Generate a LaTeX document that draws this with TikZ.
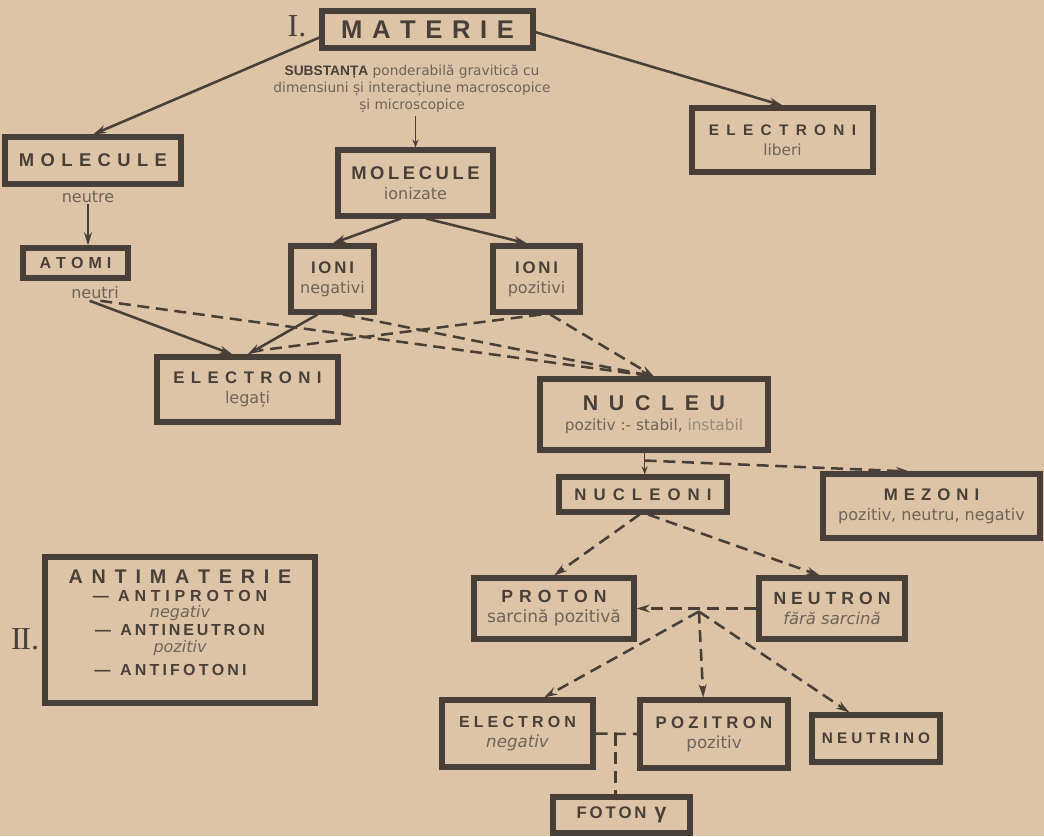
\documentclass[tikz,border=0pt]{standalone}
\usepackage{fontspec}
\setmainfont{DejaVu Sans}
\newfontfamily\capf{Liberation Sans}
\newfontfamily\subf{DejaVu Sans}
\newfontfamily\serf{Liberation Serif}
\usetikzlibrary{arrows.meta,calc}
\definecolor{bg}{RGB}{221,196,166}
\definecolor{ink}{RGB}{72,64,56}
\definecolor{subc}{RGB}{110,100,90}
\definecolor{faint}{RGB}{150,138,124}
\makeatletter
\newcommand\lsp[2]{\@tfor\lsp@c:=#2\do{\lsp@c\kern#1\relax}\kern-#1\relax}
\makeatother
\newcommand\cp[3]{{\capf\bfseries\fontsize{#1}{#1}\selectfont\lsp{#2}{#3}}}
\newcommand\sbl[2]{{\subf\color{subc}\fontsize{#1}{#1}\selectfont #2}}
\begin{document}
\begin{tikzpicture}[x=0.75pt,y=-0.75pt,
  box/.style={draw=ink, line width=3.8pt, inner sep=0pt, align=center, text=ink,
    font=\fontsize{10pt}{15pt}\selectfont},
  wh/.style 2 args={minimum width=#1*0.75pt, minimum height=#2*0.75pt},
  sub/.style={text=subc, inner sep=1pt, font=\subf\fontsize{12pt}{12pt}\selectfont},
  roman/.style={text=ink, inner sep=0pt, font=\serf\fontsize{24pt}{24pt}\selectfont},
  ln/.style={draw=ink, line width=1.9pt},
  arr/.style={ln, -{Stealth[length=10pt,width=6pt]}},
  sarr/.style={draw=ink, line width=1.2pt, -{Stealth[length=6pt,width=4.5pt]}},
  dsh/.style={dash pattern=on 9pt off 5pt}]
\fill[bg] (0,0) rectangle (1044,836);
\useasboundingbox (0,0) rectangle (1044,836);

% nodes
\node[roman] (r1) at (297,26) {I.};
\node[box,wh={211}{37}] (mat) at (427.5,29.5) {\cp{19.2pt}{7.2pt}{MATERIE}};
\node[text=subc, align=center, inner sep=2pt, font=\subf\fontsize{10.3pt}{12.5pt}\selectfont] (desc) at (412,89)
  {{\color{ink}\capf\bfseries SUBSTANȚA} ponderabilă gravitică cu\\dimensiuni și interacțiune macroscopice\\și microscopice};
\node[box,wh={176}{47}] (molL) at (93,160.5) {\cp{13.8pt}{4.8pt}{MOLECULE}};
\node[sub] (ntre) at (88,197) {neutre};
\node[box,wh={105}{30}] (atomi) at (75.5,263) {\cp{12pt}{3.8pt}{ATOMI}};
\node[sub] (ntri) at (95,293) {neutri};
\node[box,wh={181}{64}] (elib) at (782.5,140) {\cp{11.5pt}{5.5pt}{ELECTRONI}\\\sbl{11.5pt}{liberi}};
\node[box,wh={155}{66}] (molI) at (415.5,183) {\cp{13.8pt}{2.7pt}{MOLECULE}\\\sbl{12pt}{ionizate}};
\node[box,wh={83}{66}] (ionN) at (332.5,279) {\cp{12.6pt}{2.1pt}{IONI}\\\sbl{12pt}{negativi}};
\node[box,wh={87}{66}] (ionP) at (536.5,279) {\cp{12.6pt}{2.1pt}{IONI}\\\sbl{12pt}{pozitivi}};
\node[box,wh={181}{65}] (eleg) at (247.5,389.5) {\cp{12.6pt}{4.8pt}{ELECTRONI}\\\sbl{12pt}{legați}};
\node[box,wh={228}{71}] (nuc) at (654,414.5) {\cp{16pt}{8pt}{NUCLEU}\\\sbl{11.5pt}{pozitiv :- stabil, {\color{faint}instabil}}};
\node[box,wh={168}{35}] (ncl) at (643,494.5) {\cp{12.6pt}{5.3pt}{NUCLEONI}};
\node[box,wh={217}{64}] (mez) at (931.5,506) {\cp{12.6pt}{4.5pt}{MEZONI}\\\sbl{12pt}{pozitiv, neutru, negativ}};
\node[box,wh={160}{61}] (pro) at (554,608.5) {\cp{13.2pt}{4.5pt}{PROTON}\\\sbl{12.8pt}{sarcină pozitivă}};
\node[box,wh={146}{61}] (neu) at (832,608.5) {\cp{13.2pt}{3.75pt}{NEUTRON}\\\sbl{12.3pt}{\itshape fără sarcină}};
\node[box,wh={151}{67}] (elc) at (517.5,733.5) {\cp{12pt}{3.1pt}{ELECTRON}\\\sbl{12.5pt}{\itshape negativ}};
\node[box,wh={148}{68}] (poz) at (714,734) {\cp{12.6pt}{3.2pt}{POZITRON}\\\sbl{12.5pt}{pozitiv}};
\node[box,wh={128}{47}] (nto) at (876,738.5) {\cp{11.5pt}{3pt}{NEUTRINO}};
\node[box,wh={137}{36}] (fot) at (621.5,815) {\cp{12.6pt}{2.1pt}{FOTON}\hspace{6pt}{\capf\bfseries\fontsize{16pt}{16pt}\selectfont γ}};
\node[roman] (r2) at (25,639) {I\kern-1pt I.};
\node[box,wh={270}{146}] (anti) at (180,630) {%
  \cp{14.8pt}{6.6pt}{ANTIMATERIE}\\[-1.5pt]
  \cp{12pt}{0pt}{—}\hspace{7pt}\cp{12pt}{3.6pt}{ANTIPROTON}\\[-2.5pt]
  \sbl{12pt}{\itshape negativ}\\[-2pt]
  \cp{12pt}{0pt}{—}\hspace{7pt}\cp{12pt}{2.1pt}{ANTINEUTRON}\\[-2pt]
  \sbl{12pt}{\itshape pozitiv}\\[2.5pt]
  \cp{12pt}{0pt}{—}\hspace{7pt}\cp{12pt}{2.4pt}{ANTIFOTONI}\kern14pt\\[-4pt]\mbox{}};

% connectors
\draw[arr] ([yshift=-6pt]mat.west) -- (molL.north);
\draw[arr] ([yshift=-2pt]mat.east) -- (elib.north);
\draw[sarr] (desc.south -| molI.north) -- (molI.north);
\draw[arr, line width=1.4pt] (ntre.south) -- (ntre.south |- atomi.north);
\draw[arr] ([xshift=-11pt]molI.south) -- (ionN.north);
\draw[arr] ([xshift=8pt]molI.south) -- ($(ionP.north west)!0.4!(ionP.north east)$);
\draw[arr] ([xshift=-4pt]ntri.south) -- ($(eleg.north west)!0.42!(eleg.north east)$);
\draw[arr,dsh] ([xshift=4pt]ntri.south) -- (nuc.north);
\draw[arr] ($(ionN.south west)!0.33!(ionN.south east)$) -- (eleg.north);
\draw[arr,dsh] ($(ionN.south west)!0.62!(ionN.south east)$) -- (nuc.north);
\draw[ln,dsh] ($(ionP.south west)!0.55!(ionP.south east)$) -- ([yshift=3pt]$(eleg.north west)!0.56!(eleg.north east)$);
\draw[arr,dsh] ($(ionP.south west)!0.65!(ionP.south east)$) -- (nuc.north);
\coordinate (n0) at ($(nuc.south west)!0.46!(nuc.south east)$);
\draw[sarr] (n0) -- (n0 |- ncl.north);
\coordinate (n1) at ($(n0)+(0,8)$);
\draw[arr,dsh] (n1) -- ($(mez.north west)!0.4!(mez.north east)$);
\draw[arr,dsh] ($(ncl.south west)!0.48!(ncl.south east)$) -- (pro.north);
\draw[arr,dsh] ($(ncl.south west)!0.53!(ncl.south east)$) -- ($(neu.north west)!0.42!(neu.north east)$);
\draw[arr,dsh] (neu.west) -- (pro.east);
\coordinate (J) at ($($(pro.east)!0.52!(neu.west)$)+(0,3)$);
\draw[arr,dsh] (J) -- ($(elc.north west)!0.67!(elc.north east)$);
\draw[arr,dsh] (J) -- ($(poz.north west)!0.43!(poz.north east)$);
\draw[arr,dsh] (J) -- ($(nto.north west)!0.3!(nto.north east)$);
\draw[ln,dsh] (elc.east) -- (poz.west);
\coordinate (T) at ($(elc.east)!0.47!(poz.west)$);
\draw[ln,dsh] (T) -- (T |- fot.north);
\end{tikzpicture}
\end{document}
